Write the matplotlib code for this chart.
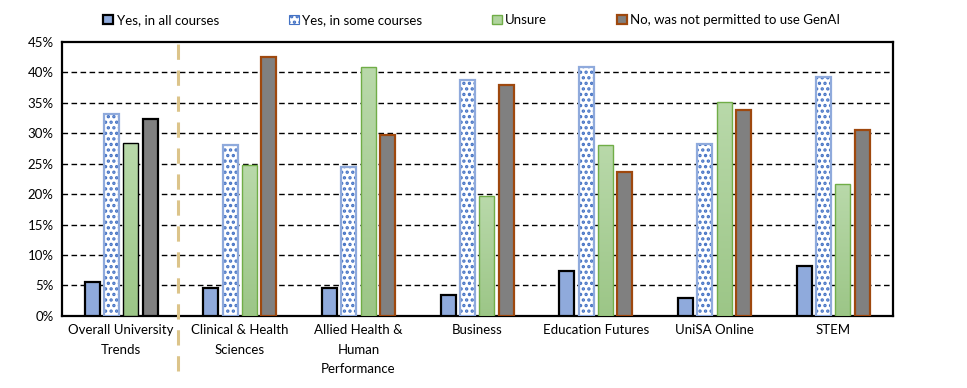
import numpy as np
import matplotlib
matplotlib.use("Agg")
import matplotlib.pyplot as plt
from matplotlib.patches import Patch
from matplotlib.colors import LinearSegmentedColormap

plt.rcParams['font.family'] = ['Lato', 'DejaVu Sans']
plt.rcParams['hatch.linewidth'] = 1.6

categories = ["Overall University\nTrends", "Clinical & Health\nSciences", "Allied Health &\nHuman\nPerformance",
              "Business", "Education Futures", "UniSA Online", "STEM"]
series_names = ["Yes, in all courses", "Yes, in some courses", "Unsure", "No, was not permitted to use GenAI"]
yes_all = [5.6, 4.6, 4.6, 3.5, 7.3, 2.9, 8.2]
yes_some = [33.2, 28.0, 24.5, 38.7, 40.9, 28.2, 39.2]
unsure = [28.4, 24.7, 40.8, 19.7, 28.1, 35.2, 21.7]
no_perm = [32.4, 42.6, 29.7, 37.9, 23.6, 33.8, 30.6]
yticks = [0, 5, 10, 15, 20, 25, 30, 35, 40, 45]

fig = plt.figure(figsize=(9.67, 3.88), dpi=100)
ax = fig.add_axes([0.064, 0.186, 0.859, 0.706])

x = np.arange(len(categories))
w = 0.126
step = 0.163
offs = [-1.5 * step, -0.5 * step, 0.5 * step, 1.5 * step]

blue = "#8FAADC"
dot = "#4472C4"
grey = "#808080"
brown = "#9E480E"
gedge = "#70AD47"

# gridlines
for t in yticks[1:-1]:
    ax.axhline(t, color="black", lw=1.0, ls=(0, (4, 2.5)), zorder=1)

# Yes in all
ax.bar(x + offs[0], yes_all, w, color=blue, edgecolor="black", linewidth=1.6, zorder=3)
# Yes in some: hatched dots
ax.bar(x + offs[1], yes_some, w, color="white", edgecolor=dot, hatch="...", linewidth=0, zorder=3)
ax.bar(x + offs[1], yes_some, w, fill=False, edgecolor=blue, linewidth=1.6, zorder=4)
# Unsure gradient
cmap = LinearSegmentedColormap.from_list("g", ["#9CC687", "#B9D9AA"])
grad = np.linspace(0, 1, 100).reshape(-1, 1)
ubars = ax.bar(x + offs[2], unsure, w, color="none",
               edgecolor=["black"] + [gedge] * (len(x) - 1), linewidth=1.0, zorder=4)
for b in ubars:
    bx, by = b.get_x(), b.get_y()
    bw, bh = b.get_width(), b.get_height()
    im = ax.imshow(grad, cmap=cmap, origin="lower", aspect="auto",
                   extent=[bx, bx + bw, by, by + bh], zorder=3)
    im.set_clip_path(b)
# No
ax.bar(x + offs[3], no_perm, w, color=grey,
       edgecolor=["black"] + [brown] * (len(x) - 1), linewidth=1.6, zorder=3)

ax.set_xlim(-0.5, len(categories) - 0.5)
ax.set_ylim(0, 45)
ax.set_yticks(yticks)
ax.set_yticklabels([f"{t}%" for t in yticks], fontsize=9.5)
ax.set_xticks(x)
ax.set_xticklabels(categories, fontsize=9.5, linespacing=1.75)
ax.tick_params(length=0, pad=6)
for s in ax.spines.values():
    s.set_linewidth(1.6)
    s.set_color("black")

# separator
ax.axvline(0.48, ymin=-0.2, ymax=1.0, color="#DCC48A", lw=2.2, ls=(0, (5, 3.5)),
           clip_on=False, zorder=5)

handles = [
    Patch(facecolor=blue, edgecolor="black", linewidth=1.6),
    Patch(facecolor="white", edgecolor=dot, hatch="...", linewidth=0.8),
    Patch(facecolor="#B0D49E", edgecolor=gedge, linewidth=1.0),
    Patch(facecolor=grey, edgecolor=brown, linewidth=1.6),
]
fig.legend(handles, series_names, loc="center left", bbox_to_anchor=(0.107, 0.948),
           ncol=4, frameon=False, fontsize=9.5, handlelength=0.75, handleheight=0.75,
           handletextpad=0.25, columnspacing=5.3, borderaxespad=0, borderpad=0)

fig.savefig("out.png", dpi=100)
